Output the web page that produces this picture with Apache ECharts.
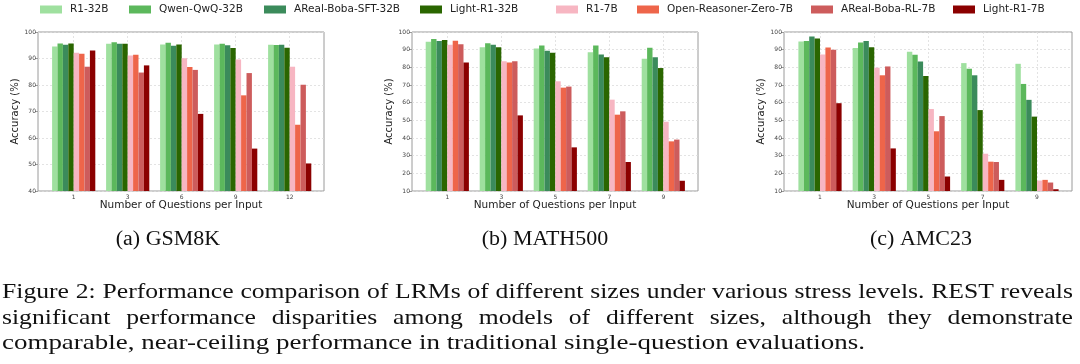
<!DOCTYPE html>
<html>
<head>
<meta charset="utf-8">
<script src="https://cdn.jsdelivr.net/npm/echarts@6/dist/echarts.min.js"></script>
<style>
  html, body { margin: 0; padding: 0; background: #fff; }
  #wrap { position: relative; width: 1080px; height: 364px; overflow: hidden; }
  #chart { position: absolute; left: 0; top: 0; width: 1080px; height: 364px; }
  #cap { position: absolute; left: 2px; top: 279px; transform-origin: 0 0;
         font-family: "Liberation Serif", serif; font-size: 21px; line-height: 25.5px; color: #111; }
  #cap .j { text-align: justify; text-align-last: justify; white-space: normal; }
  #cap .n { white-space: nowrap; transform-origin: 0 0; }
  #cap span { white-space: nowrap; }
</style>
</head>
<body>
<div id="wrap">
  <div id="chart"></div>
  <div id="cap">
    <div class="j"><span id="l1"></span></div>
    <div class="j"><span id="l2"></span></div>
    <div class="n" id="l3b"><span id="l3"></span></div>
  </div>
</div>
<script>
// ---------------- data ----------------
const models = ['R1-32B', 'Qwen-QwQ-32B', 'AReal-Boba-SFT-32B', 'Light-R1-32B',
                'R1-7B', 'Open-Reasoner-Zero-7B', 'AReal-Boba-RL-7B', 'Light-R1-7B'];
const modelColors = ['#9fe09f', '#5cb85c', '#3b8b5b', '#2a6600',
                     '#f7b6c2', '#ee654a', '#cd5c5c', '#8b0000'];

const gsm8kCategories = ['1', '3', '6', '9', '12'];
const math500Categories = ['1', '3', '5', '7', '9'];
const amc23Categories = ['1', '3', '5', '7', '9'];

// rows follow the order of `models`
const gsm8kValues = [
  [94.5, 95.6, 95.3, 95.3, 95.2],
  [95.7, 96.1, 95.9, 95.6, 95.1],
  [95.2, 95.6, 94.8, 95.0, 95.2],
  [95.7, 95.6, 95.3, 94.0, 94.1],
  [92.2, 91.1, 90.1, 89.6, 86.9],
  [91.8, 91.4, 86.8, 76.1, 65.0],
  [86.9, 84.7, 85.7, 84.5, 80.1],
  [93.0, 87.4, 69.1, 56.0, 50.4]
];
const math500Values = [
  [94.5, 91.3, 90.6, 88.5, 84.9],
  [96.0, 93.6, 92.3, 92.3, 91.1],
  [94.9, 92.8, 89.4, 87.2, 85.7],
  [95.5, 91.3, 88.3, 85.7, 79.6],
  [92.8, 83.4, 72.1, 61.7, 49.2],
  [95.1, 82.8, 68.5, 53.2, 38.1],
  [93.0, 83.4, 69.1, 55.1, 39.1],
  [82.8, 52.8, 34.7, 26.4, 15.8]
];
const amc23Values = [
  [94.6, 91.0, 88.8, 82.4, 82.0],
  [94.9, 94.0, 87.1, 79.2, 70.6],
  [97.4, 94.9, 83.3, 75.5, 61.6],
  [96.3, 91.4, 75.1, 55.8, 52.1],
  [87.3, 79.8, 56.4, 31.1, 15.9],
  [91.2, 75.5, 43.8, 26.6, 16.3],
  [89.9, 80.5, 52.4, 26.4, 14.8],
  [59.7, 34.1, 18.2, 16.3, 11.0]
];

const subTitles = ['(a) GSM8K', '(b) MATH500', '(c) AMC23'];
const xAxisTitle = 'Number of Questions per Input';
const yAxisTitle = 'Accuracy (%)';
const captionLines = [
  'Figure 2: Performance comparison of LRMs of different sizes under various stress levels. REST reveals',
  'significant performance disparities among models of different sizes, although they demonstrate',
  'comparable, near-ceiling performance in traditional single-question evaluations.'
];

// ---------------- layout ----------------
const panels = [
  { cats: gsm8kCategories, vals: gsm8kValues, yMin: 40, frameL: 38, frameR: 324, c0: 73.7, c4: 289.7, nameGap: 14, subX: 168 },
  { cats: math500Categories, vals: math500Values, yMin: 10, frameL: 412, frameR: 698, c0: 447.3, c4: 663.3, nameGap: 14, subX: 545 },
  { cats: amc23Categories, vals: amc23Values, yMin: 10, frameL: 784, frameR: 1072, c0: 820, c4: 1037, nameGap: 13, subX: 921 }
];
const TOP = 32, H = 159;
const FONT = 'DejaVu Sans';

const grids = [], xAxes = [], yAxes = [], series = [];
panels.forEach((p, pi) => {
  const band = (p.c4 - p.c0) / 4;
  grids.push({ left: p.frameL, top: TOP, width: p.frameR - p.frameL, height: H,
               show: true, borderColor: '#9a9a9a', borderWidth: 1, backgroundColor: 'transparent',
               containLabel: false, outerBoundsMode: 'none' });
  grids.push({ left: p.c0 - band / 2, top: TOP, width: band * 5, height: H,
               containLabel: false, outerBoundsMode: 'none' });
  xAxes.push({ gridIndex: 2 * pi, type: 'value', min: 0, max: 1,
               axisLine: { show: false }, axisTick: { show: false }, axisLabel: { show: false },
               splitLine: { show: false },
               name: xAxisTitle, nameLocation: 'middle', nameGap: 9,
               nameTextStyle: { fontSize: 10.5, color: '#222', fontFamily: FONT } });
  xAxes.push({ gridIndex: 2 * pi + 1, type: 'category', data: p.cats, boundaryGap: true,
               axisLine: { show: false }, axisTick: { show: false, alignWithLabel: true },
               axisLabel: { fontSize: 6, color: '#444', margin: 3, fontFamily: FONT },
               splitLine: { show: true, alignWithLabel: true,
                            lineStyle: { color: '#dcdcdc', width: 0.8, type: [2, 2] } } });
  yAxes.push({ gridIndex: 2 * pi, type: 'value', min: p.yMin, max: 100, interval: 10,
               axisLine: { show: false },
               axisTick: { show: true, length: 3, lineStyle: { color: '#9a9a9a' } },
               axisLabel: { fontSize: 6, color: '#444', margin: 2, fontFamily: FONT },
               splitLine: { show: true, lineStyle: { color: '#dcdcdc', width: 0.8, type: [2, 2] } },
               name: yAxisTitle, nameLocation: 'middle', nameGap: p.nameGap,
               nameTextStyle: { fontSize: 10, color: '#222', fontFamily: FONT } });
  yAxes.push({ gridIndex: 2 * pi + 1, type: 'value', min: p.yMin, max: 100, show: false });
  models.forEach((m, mi) => {
    series.push({ type: 'bar', name: m, xAxisIndex: 2 * pi + 1, yAxisIndex: 2 * pi + 1,
                  data: p.vals[mi], barWidth: 5.4, barGap: '0%', clip: true,
                  itemStyle: { color: modelColors[mi] }, emphasis: { disabled: true } });
  });
});

const legendLeft = [40, 129, 264, 420, 556, 637, 811, 953];
const legends = models.map((m, i) => ({
  data: [m], left: legendLeft[i], top: 4, itemWidth: 22, itemHeight: 8, icon: 'rect',
  itemGap: 0, padding: 0, selectedMode: false,
  textStyle: { fontSize: 10.5, color: '#222', fontFamily: FONT, padding: [0, 0, 0, 3] }
}));

const graphics = panels.map((p, i) => ({
  type: 'text', x: p.subX, y: 240, scaleX: 1.1,
  style: { text: subTitles[i], textAlign: 'center', textVerticalAlign: 'middle',
           font: '20px "Liberation Serif"', fill: '#111' }
}));

const chart = echarts.init(document.getElementById('chart'));
chart.setOption({
  animation: false,
  textStyle: { fontFamily: FONT },
  legend: legends,
  grid: grids,
  xAxis: xAxes,
  yAxis: yAxes,
  series: series,
  graphic: graphics
});

// ---------------- caption ----------------
document.getElementById('l1').textContent = captionLines[0];
document.getElementById('l2').textContent = captionLines[1];
document.getElementById('l3').textContent = captionLines[2];
const w1 = document.getElementById('l1').getBoundingClientRect().width;
const w3 = document.getElementById('l3').getBoundingClientRect().width;
const k = 1066 / w1;
const cap = document.getElementById('cap');
['l1', 'l2'].forEach(id => {
  const s = document.getElementById(id);
  s.style.whiteSpace = 'normal';
  s.style.display = 'inline';
});
cap.style.width = (1071 / k) + 'px';
cap.style.transform = 'scale(' + k + ',1)';
// last (unjustified) line: stretch so it ends where the reference line ends
const k3 = 863 / (w3 * k);
document.getElementById('l3b').style.transform = 'scale(' + k3 + ',1)';
</script>
</body>
</html>
